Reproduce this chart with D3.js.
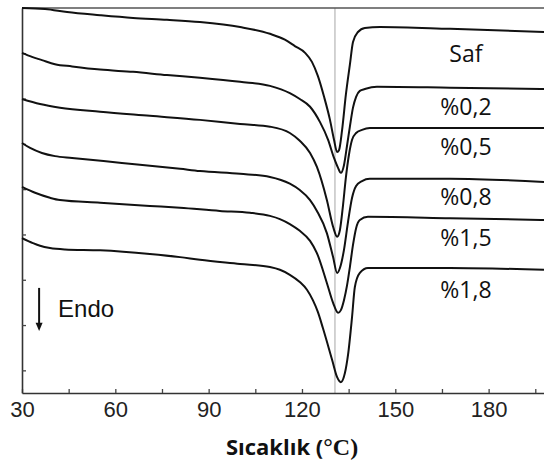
<!DOCTYPE html>
<html>
<head>
<meta charset="utf-8">
<script src="https://cdn.jsdelivr.net/npm/d3@7"></script>
<style>
  html, body { margin: 0; padding: 0; background: #fff; }
  svg { display: block; }
</style>
</head>
<body>
<svg id="chart" width="544" height="463"></svg>
<script>
// DSC heating curves: [temperature (°C), heat flow (arb. units, offset per sample)]
const saf = [[30,8.00],[37.4,7.98],[44.5,7.91],[55.1,7.84],[65.7,7.78],[76.6,7.74],[87.2,7.69],
  [100.1,7.58],[109.7,7.43],[114.5,7.30],[117.7,7.16],[121.0,7.01],[123.2,6.81],[125.1,6.50],
  [127.1,6.04],[129.0,5.53],[130.3,5.09],[131.3,4.82],[131.9,4.86],[132.9,5.31],[134.1,6.08],
  [135.4,6.75],[136.4,7.25],[138.0,7.47],[140.2,7.56],[145.1,7.58],[167.6,7.54],[197.8,7.47]];

const p02 = [[30,7.01],[33.2,6.92],[36.4,6.85],[40.6,6.76],[46.1,6.71],[55.1,6.64],[65.7,6.59],
  [76.6,6.52],[87.2,6.46],[100.1,6.37],[109.7,6.28],[116.1,6.12],[119.3,5.99],[122.6,5.82],
  [125.8,5.48],[128.4,5.09],[130.3,4.69],[131.6,4.47],[132.5,4.36],[133.5,4.53],[134.5,4.97],
  [135.4,5.38],[136.4,5.80],[137.4,6.04],[138.6,6.17],[140.2,6.21],[144.1,6.26],[167.6,6.24],
  [197.8,6.21]];

const p05 = [[30,5.99],[35.8,5.88],[42.2,5.80],[55.1,5.71],[71.1,5.62],[87.2,5.53],[100.1,5.44],
  [109.7,5.38],[116.1,5.24],[119.3,5.07],[122.6,4.80],[124.8,4.49],[128.0,3.76],[130.0,3.17],
  [131.3,2.95],[132.2,3.10],[133.2,3.65],[134.1,4.25],[135.1,4.76],[136.1,5.09],[137.4,5.24],
  [139.3,5.31],[141.8,5.35],[167.6,5.35],[197.8,5.35]];

const p08 = [[30,5.02],[32.6,4.91],[36.4,4.80],[40.6,4.73],[46.1,4.69],[62.1,4.58],[80.8,4.45],
  [87.2,4.40],[100.1,4.34],[109.7,4.27],[116.1,4.12],[119.3,3.98],[122.6,3.76],[124.8,3.52],
  [128.0,3.03],[130.0,2.50],[131.3,2.15],[132.2,2.26],[133.5,2.66],[134.8,3.28],[136.1,3.81],
  [137.4,4.07],[139.3,4.18],[141.8,4.23],[167.6,4.23],[197.8,4.16]];

const p15 = [[30,4.05],[34.2,3.92],[39.0,3.81],[42.2,3.76],[55.1,3.70],[71.1,3.63],[80.8,3.59],
  [93.6,3.52],[103.3,3.48],[109.7,3.41],[112.9,3.34],[116.1,3.23],[119.3,3.08],[122.6,2.86],
  [124.8,2.59],[128.0,1.93],[130.0,1.49],[131.6,1.27],[132.5,1.33],[133.5,1.55],[134.5,1.88],
  [135.4,2.28],[136.4,2.77],[137.4,3.14],[138.6,3.32],[141.2,3.39],[167.6,3.36],[197.8,3.32]];

const p18 = [[30,2.92],[33.5,2.81],[35.8,2.75],[39.0,2.70],[43.8,2.67],[55.1,2.65],[71.1,2.57],
  [80.8,2.50],[87.2,2.44],[100.1,2.35],[109.7,2.28],[112.9,2.22],[116.1,2.11],[119.3,1.95],
  [121.6,1.78],[123.5,1.55],[125.1,1.29],[126.7,0.94],[129.7,0.23],[131.3,-0.15],[132.5,-0.26],
  [133.8,-0.06],[134.8,0.34],[136.1,1.18],[137.0,1.84],[138.6,2.15],[141.2,2.26],[167.6,2.26],
  [197.8,2.22]];

const sampleNames = ["Saf", "%0,2", "%0,5", "%0,8", "%1,5", "%1,8"];
const curves = [saf, p02, p05, p08, p15, p18];

// Sample label anchors (temperature, heat flow)
const labelTemp = 172.7;
const labelFlow = [6.81, 5.64, 4.76, 3.65, 2.75, 1.60];

const xMajor = [30, 60, 90, 120, 150, 180];
const xTickValues = d3.range(30, 196, 15);
const yTickValues = d3.range(0, 8, 1);
const meltRef = 130.6;   // reference melting temperature line

const svg = d3.select("#chart");
const x = d3.scaleLinear().domain([30, 197.8]).range([22, 544]);
const y = d3.scaleLinear().domain([-0.5, 8]).range([393, 8]);

// Reference line
svg.append("line")
  .attr("x1", x(meltRef)).attr("x2", x(meltRef))
  .attr("y1", y(8)).attr("y2", y(-0.5))
  .attr("stroke", "#c4c4c4").attr("stroke-width", 1.5);

// Frame: top border
svg.append("line")
  .attr("x1", x(30)).attr("x2", x(197.8))
  .attr("y1", y(8)).attr("y2", y(8))
  .attr("stroke", "#555").attr("stroke-width", 1.5);

// Bottom axis
const xAxis = d3.axisBottom(x)
  .tickValues(xTickValues)
  .tickSizeInner(-4).tickSizeOuter(0).tickPadding(8)
  .tickFormat(d => xMajor.includes(d) ? d : "");
const gx = svg.append("g").attr("transform", `translate(0,${y(-0.5)})`).call(xAxis);
gx.select(".domain").attr("stroke", "#333").attr("stroke-width", 1.6);
gx.selectAll(".tick line").attr("stroke", "#444").attr("stroke-width", 1.3);
gx.selectAll(".tick text")
  .attr("font-family", "'Liberation Sans', Arial, sans-serif")
  .attr("font-size", 22).attr("fill", "#222");

// Left axis
const yAxis = d3.axisLeft(y)
  .tickValues(yTickValues)
  .tickSizeInner(-4).tickSizeOuter(0)
  .tickFormat("");
const gy = svg.append("g").attr("transform", `translate(${x(30)},0)`).call(yAxis);
gy.select(".domain").attr("stroke", "#333").attr("stroke-width", 1.6);
gy.selectAll(".tick line").attr("stroke", "#444").attr("stroke-width", 1.3);

// Curves
const line = d3.line()
  .x(d => x(d[0])).y(d => y(d[1]))
  .curve(d3.curveMonotoneX);

svg.append("g").selectAll("path")
  .data(curves)
  .join("path")
  .attr("d", line)
  .attr("fill", "none")
  .attr("stroke", "#111")
  .attr("stroke-width", 2)
  .attr("stroke-linejoin", "round");

// Sample labels
svg.append("g").selectAll("text")
  .data(sampleNames)
  .join("text")
  .attr("x", x(labelTemp))
  .attr("y", (d, i) => y(labelFlow[i]))
  .attr("text-anchor", "middle")
  .attr("font-family", "'Open Sans', sans-serif")
  .attr("font-size", 23)
  .attr("fill", "#111")
  .text(d => d);

// Endotherm direction arrow
const arrowX = x(35.5);
svg.append("line")
  .attr("x1", arrowX).attr("x2", arrowX)
  .attr("y1", y(1.82)).attr("y2", y(1.02))
  .attr("stroke", "#111").attr("stroke-width", 2);
svg.append("path")
  .attr("d", `M${arrowX - 3.5},${y(1.05)} L${arrowX + 3.5},${y(1.05)} L${arrowX},${y(0.87)} Z`)
  .attr("fill", "#111");
svg.append("text")
  .attr("x", x(41.6)).attr("y", y(1.18))
  .attr("font-family", "'Liberation Sans', Arial, sans-serif")
  .attr("font-size", 24)
  .attr("fill", "#111")
  .text("Endo");

// Axis title
const title = svg.append("text")
  .attr("x", 292).attr("y", 455)
  .attr("text-anchor", "middle")
  .attr("fill", "#111");
title.append("tspan")
  .attr("font-family", "'Open Sans', sans-serif")
  .attr("font-weight", "bold")
  .attr("font-size", 22)
  .text("Sıcaklık (");
title.append("tspan")
  .attr("font-family", "'Liberation Serif', serif")
  .attr("font-weight", "bold")
  .attr("font-size", 24)
  .text("°C)");
</script>
</body>
</html>
